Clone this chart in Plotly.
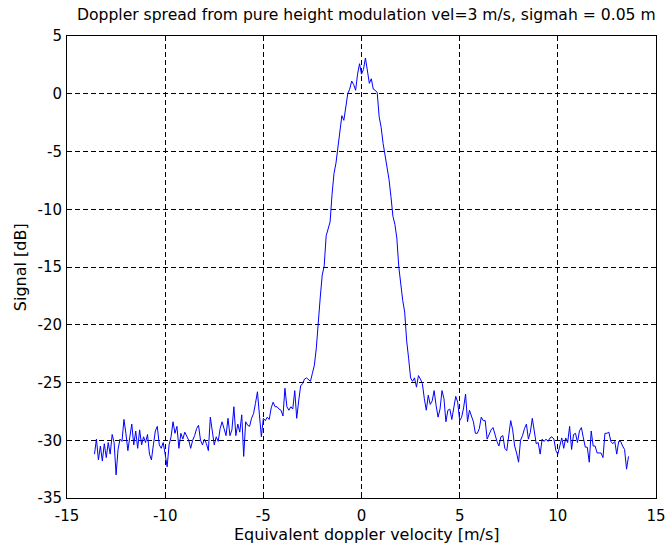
import numpy as np
import plotly.graph_objects as go

# Equivalent doppler velocity bins [m/s] (uniform FFT grid, step 0.1)
v_start, v_stop, v_count = -13.6, 13.6, 273
velocity = np.round(np.linspace(v_start, v_stop, v_count), 2)

# Signal [dB], by velocity segment
sig_a = [-31.2, -29.9, -31.7, -30.5, -31.8, -30.3, -31.5, -30.2, -31.2, -29.5,
         -30.2, -33.0, -30.8, -29.9, -30.1, -28.2, -29.4, -30.9, -29.7, -28.6,
         -30.4, -29.2, -30.7, -29.1, -30.4, -29.7, -30.2, -29.5, -31.2, -31.7,
         -30.4, -29.2, -28.8, -30.4, -30.7, -30.2, -31.2, -32.3, -30.4, -29.7,
         -28.4, -29.4, -28.8, -30.7]
sig_b = [-29.4, -29.9, -29.3, -29.7, -30.0, -30.7, -30.0, -29.6, -29.0, -28.7,
         -30.0, -30.4, -29.9, -30.3, -30.9, -28.0, -29.1, -30.4, -29.7, -30.1,
         -29.0, -28.4, -29.0, -29.6, -28.1, -29.6, -29.1, -27.1, -29.6, -28.6,
         -29.3, -27.8, -31.4, -28.4, -28.7, -28.8, -28.1, -27.7, -26.8, -25.8,
         -27.8, -29.7, -28.1, -28.3, -28.0, -28.2]
sig_c = [-27.2, -26.7, -27.1, -27.1, -27.3, -27.4, -27.9, -25.5, -27.1, -27.4,
         -27.1, -27.3, -25.7, -28.1, -26.6, -25.3, -25.1, -24.7, -24.6, -24.8,
         -24.9, -24.2, -23.5, -22.0, -19.5]
sig_d = [-17.6, -15.7, -14.9, -12.3, -11.6, -11.1, -8.7, -6.9, -6.0, -4.5,
         -3.0, -1.9, -2.3, -1.0, 0.0, 0.4, 1.1, 0.8, 0.3, 1.7,
         2.6, 1.7, 2.1, 3.1, 2.0, 0.9]
sig_e = [1.3, 0.4, 0.3, 0.1, -2.0, -2.9, -4.3, -5.3, -6.6, -7.4,
         -8.9, -10.6, -11.3, -12.5, -15.0, -16.7, -17.9, -18.9, -21.4, -22.9]
sig_f = [-24.6, -24.9, -24.6, -25.4, -24.4, -24.7, -25.1, -26.4, -27.4, -26.1,
         -26.9, -26.6, -25.7, -27.0, -28.0, -27.3, -25.7, -26.4, -28.4, -27.4,
         -27.3, -28.2, -27.2, -26.2, -26.7, -28.3, -28.0, -27.2, -26.0, -28.4,
         -27.4, -28.0, -28.4]
sig_g = [-29.4, -29.4, -29.0, -28.0, -28.3, -28.3, -29.9, -29.4, -29.1, -28.9,
         -29.6, -30.1, -30.5, -29.7, -29.6, -30.7, -30.9, -29.7, -28.3, -29.1,
         -30.5, -31.1, -31.9, -30.0, -29.6, -29.0, -28.6, -29.9, -29.3, -28.1,
         -29.3, -30.3, -30.2, -31.2, -29.9, -30.1, -29.9, -30.1, -29.8, -29.7,
         -29.9, -30.9]
sig_h = [-31.2, -30.6, -29.8, -30.7, -29.8, -30.2, -28.8, -30.8, -29.5, -29.4,
         -30.2, -29.2, -28.9, -29.8, -30.6, -30.6, -31.9, -29.2, -30.5, -30.5,
         -31.1, -31.1, -31.1, -31.5, -29.4, -29.4, -29.3, -30.1, -30.3, -30.1,
         -31.2, -30.1, -30.1, -30.5, -30.8, -32.5, -31.4]
signal = sig_a + sig_b + sig_c + sig_d + sig_e + sig_f + sig_g + sig_h

x_ticks = [-15, -10, -5, 0, 5, 10, 15]
y_ticks = [5, 0, -5, -10, -15, -20, -25, -30, -35]

title_text = "Doppler spread from pure height modulation vel=3 m/s, sigmah = 0.05 m"
x_label = "Equivalent doppler velocity [m/s]"
y_label = "Signal [dB]"

FONT = "DejaVu Sans, Liberation Sans, Arial, sans-serif"
FS = 16
TICK_FS = 15

fig = go.Figure()
fig.add_trace(go.Scatter(x=velocity, y=signal, mode="lines",
                         line=dict(color="#0000ff", width=1), showlegend=False))

axis_common = dict(
    showline=True, linecolor="black", linewidth=1, mirror="ticks",
    ticks="inside", ticklen=5, tickcolor="black", tickwidth=1,
    showgrid=True, gridcolor="black", gridwidth=1, griddash="5px,3px",
    zeroline=False, automargin=False, ticklabeloverflow="allow",
    tickfont=dict(family=FONT, size=TICK_FS, color="black"),
)

fig.update_layout(
    width=666, height=548,
    margin=dict(l=67, r=10, t=36, b=50, pad=0),
    paper_bgcolor="white", plot_bgcolor="white",
    title=dict(text=title_text, xref="container", x=0.55, xanchor="center",
               yref="container", y=0.974, yanchor="middle",
               font=dict(family=FONT, size=15.6, color="black")),
    xaxis=dict(range=[-15, 15], tickvals=x_ticks, ticktext=[str(t) for t in x_ticks],
               ticklabelstandoff=4, **axis_common),
    yaxis=dict(range=[-35, 5], tickvals=y_ticks, ticktext=[str(t) for t in y_ticks],
               ticklabelstandoff=1, **axis_common),
    annotations=[
        dict(text=x_label, xref="paper", yref="paper", x=0.51, y=-0.0785,
             xanchor="center", yanchor="middle", showarrow=False,
             font=dict(family=FONT, size=FS, color="black")),
        dict(text=y_label, xref="paper", yref="paper", x=-0.0795, y=0.5,
             xanchor="center", yanchor="middle", showarrow=False, textangle=-90,
             font=dict(family=FONT, size=FS, color="black")),
    ],
)

fig.write_html("out.html", config={"displayModeBar": False},
               post_script="document.body.style.margin='0px';document.body.style.padding='0px';")
